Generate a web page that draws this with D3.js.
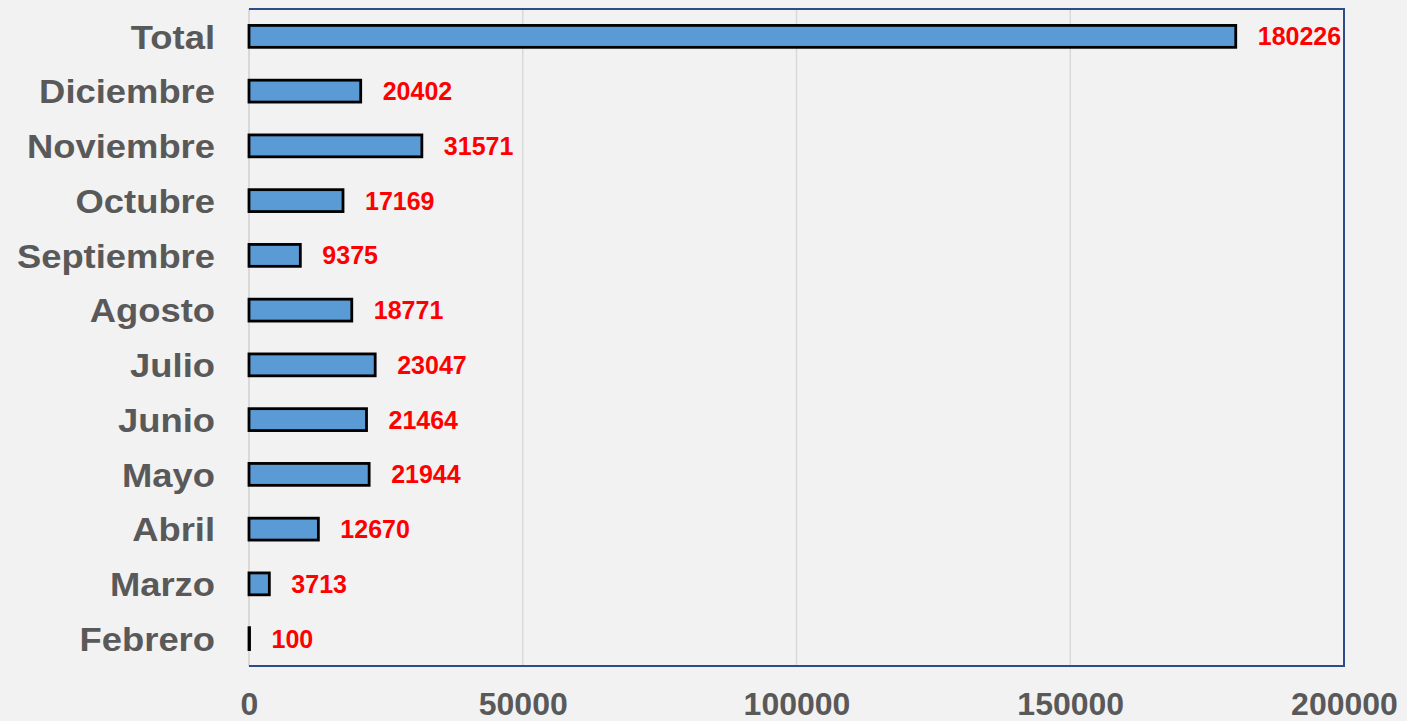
<!DOCTYPE html>
<html>
<head>
<meta charset="utf-8">
<script src="https://cdn.jsdelivr.net/npm/d3@7"></script>
<style>
  html, body { margin: 0; padding: 0; background: #f2f2f2; }
  svg { display: block; font-family: 'Liberation Sans', Arial, sans-serif; }
</style>
</head>
<body>
<svg></svg>
<script>
const categories = ['Total', 'Diciembre', 'Noviembre', 'Octubre', 'Septiembre', 'Agosto',
  'Julio', 'Junio', 'Mayo', 'Abril', 'Marzo', 'Febrero'];
const values = [180226, 20402, 31571, 17169, 9375, 18771, 23047, 21464, 21944, 12670, 3713, 100];
const xTicks = [0, 50000, 100000, 150000, 200000];

const w = 1407;
const h = 721;
const plotLeft = 249;
const plotRight = 1344;
const plotTop = 9;
const plotBottom = 666;

const svg = d3.select('svg').attr('width', w).attr('height', h);

svg.append('rect').attr('width', w).attr('height', h).attr('fill', '#f2f2f2');

const xScale = d3.scaleLinear().domain([0, 200000]).range([plotLeft, plotRight]);
const yScale = d3.scaleBand().domain(categories).range([plotTop, plotBottom]).paddingInner(0.6).paddingOuter(0.3);

// gridlines
svg.selectAll('line.grid')
  .data(xTicks.slice(1, -1))
  .enter()
  .append('line')
  .attr('class', 'grid')
  .attr('x1', (d) => xScale(d))
  .attr('x2', (d) => xScale(d))
  .attr('y1', plotTop)
  .attr('y2', plotBottom)
  .attr('stroke', '#d9d9d9')
  .attr('stroke-width', 1.5);

// left axis line
svg.append('line')
  .attr('x1', plotLeft).attr('x2', plotLeft)
  .attr('y1', plotTop).attr('y2', plotBottom)
  .attr('stroke', '#d0d0d0')
  .attr('stroke-width', 1.5);

// frame top / right / bottom
svg.append('path')
  .attr('d', `M${plotLeft},${plotTop}H${plotRight}V${plotBottom}H${plotLeft}`)
  .attr('fill', 'none')
  .attr('stroke', '#2f4c8a')
  .attr('stroke-width', 2);

// bars
svg.selectAll('rect.bar')
  .data(values)
  .enter()
  .append('rect')
  .attr('class', 'bar')
  .attr('x', xScale(0))
  .attr('y', (d, i) => yScale(categories[i]))
  .attr('width', (d) => xScale(d) - xScale(0))
  .attr('height', yScale.bandwidth())
  .attr('fill', '#5b9bd5')
  .attr('stroke', '#000')
  .attr('stroke-width', 2.8);

// value labels
svg.selectAll('text.val')
  .data(values)
  .enter()
  .append('text')
  .attr('class', 'val')
  .attr('x', (d) => xScale(d) + 22)
  .attr('y', (d, i) => yScale(categories[i]) + yScale.bandwidth() / 2)
  .attr('dy', '0.36em')
  .attr('fill', '#ff0000')
  .attr('font-weight', 'bold')
  .attr('font-size', 25)
  .text((d) => d);

// category labels (source font is a bit wider than Liberation Sans)
svg.selectAll('text.cat')
  .data(categories)
  .enter()
  .append('text')
  .attr('class', 'cat')
  .attr('transform', (d) => `translate(215, ${yScale(d) + yScale.bandwidth() / 2}) scale(1.07, 1)`)
  .attr('dy', '0.36em')
  .attr('text-anchor', 'end')
  .attr('fill', '#595959')
  .attr('font-weight', 'bold')
  .attr('font-size', 34)
  .text((d) => d);

// x axis
const xAxis = d3.axisBottom(xScale).tickValues(xTicks).tickSize(0).tickFormat(d3.format('d'));
const gx = svg.append('g').attr('transform', `translate(0, ${plotBottom})`).call(xAxis);
gx.select('.domain').remove();
gx.selectAll('text')
  .attr('dy', null)
  .attr('y', 49)
  .attr('fill', '#595959')
  .attr('font-weight', 'bold')
  .attr('font-size', 32)
  .attr('font-family', "'Liberation Sans', Arial, sans-serif");
</script>
</body>
</html>
